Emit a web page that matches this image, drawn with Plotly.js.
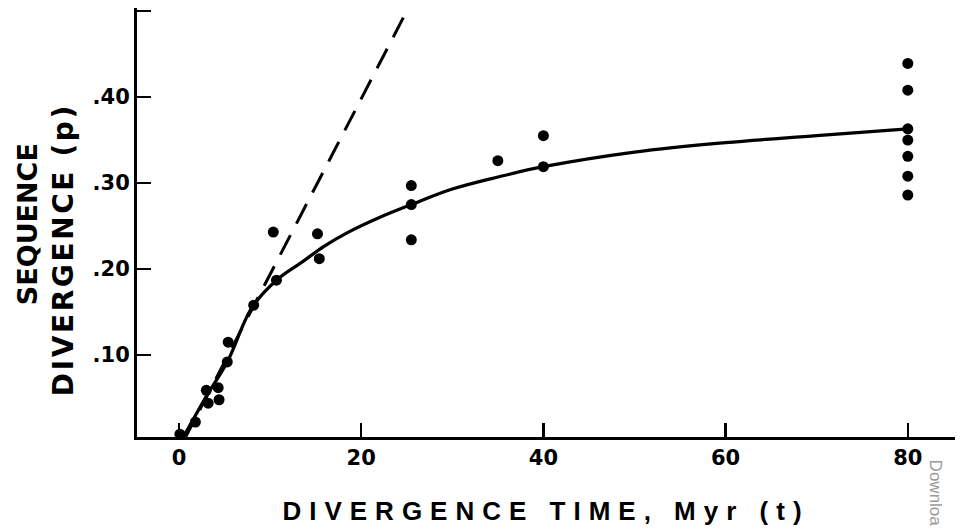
<!DOCTYPE html>
<html>
<head>
<meta charset="utf-8">
<script src="https://cdn.plot.ly/plotly-3.0.1.min.js"></script>
<style>
  html, body { margin: 0; padding: 0; background: #fff; }
  #chart { width: 963px; height: 532px; }
  .xtitle { letter-spacing: 8px; }
  .annotation[data-index="1"] .annotation-text { letter-spacing: 2.6px; }
</style>
</head>
<body>
<div id="chart"></div>
<script>
// Observed data points: divergence time (Myr) vs sequence divergence (p)
const obsTime = [0.1, 1.8, 3.0, 3.2, 4.3, 4.4, 5.3, 5.4, 8.2, 10.35, 10.7, 15.2, 15.4,
                 25.5, 25.5, 25.5, 35.0, 40.0, 40.0,
                 80, 80, 80, 80, 80, 80, 80];
const obsDiv  = [0.008, 0.022, 0.059, 0.044, 0.062, 0.048, 0.092, 0.115, 0.158, 0.243, 0.187, 0.241, 0.212,
                 0.297, 0.275, 0.234, 0.326, 0.355, 0.319,
                 0.439, 0.408, 0.363, 0.350, 0.331, 0.308, 0.286];

// Fitted (solid) curve
const curveTime = [0.5, 3, 5.3, 8, 10.7, 13.5, 16, 18.6, 22, 25.5, 30, 35, 40, 50, 60, 70, 80];
const curveDiv  = [0.005, 0.052, 0.092, 0.155, 0.187, 0.208, 0.227, 0.243, 0.260, 0.275, 0.293, 0.307, 0.319, 0.336, 0.347, 0.355, 0.363];

// Linear (dashed) line
const lineTime = [0.5, 25.0];
const lineDiv  = [0.0, 0.5];

// Tick labels
const xTickVals = [0, 20, 40, 60, 80];
const xTickText = ['0', '20', '40', '60', '80'];
const yTickVals = [0.1, 0.2, 0.3, 0.4, 0.5];
const yTickText = ['.10', '.20', '.30', '.40', ''];

const tickFont = {family: 'DejaVu Sans, Liberation Sans, sans-serif', size: 21, color: '#000', weight: 'bold'};

const traces = [
  {x: lineTime, y: lineDiv, type: 'scatter', mode: 'lines',
   line: {color: '#000', width: 3, dash: '22px,13px'}, hoverinfo: 'skip', showlegend: false},
  {x: curveTime, y: curveDiv, type: 'scatter', mode: 'lines',
   line: {color: '#000', width: 3.2, shape: 'spline', smoothing: 1}, hoverinfo: 'skip', showlegend: false},
  {x: obsTime, y: obsDiv, type: 'scatter', mode: 'markers',
   marker: {color: '#000', size: 11}, showlegend: false}
];

const layout = {
  width: 963, height: 532,
  margin: {l: 137, r: 8, t: 8, b: 95},
  paper_bgcolor: '#fff', plot_bgcolor: '#fff',
  showlegend: false,
  xaxis: {
    range: [-4.61, 85.18], showgrid: false, zeroline: false,
    showline: true, linecolor: '#000', linewidth: 3,
    ticks: 'inside', ticklen: 14, tickwidth: 2.5, tickcolor: '#000',
    tickvals: xTickVals, ticktext: xTickText, tickfont: tickFont,
    title: {text: 'DIVERGENCE TIME, Myr (t)', standoff: 33,
            font: {family: 'Liberation Sans, Arial, sans-serif', size: 26, color: '#000', weight: 'bold'}}
  },
  yaxis: {
    range: [0.0047, 0.5035], showgrid: false, zeroline: false,
    showline: true, linecolor: '#000', linewidth: 3,
    ticks: 'inside', ticklen: 14, tickwidth: 2.5, tickcolor: '#000',
    tickvals: yTickVals, ticktext: yTickText, tickfont: tickFont
  },
  annotations: [
    {text: 'SEQUENCE', xref: 'paper', yref: 'paper', x: -0.1345, y: 0.496,
     xanchor: 'center', yanchor: 'middle', textangle: -90, showarrow: false,
     font: {family: 'DejaVu Sans, Liberation Sans, sans-serif', size: 27, color: '#000', weight: 'bold'}},
    {text: 'DIVERGENCE (p)', xref: 'paper', yref: 'paper', x: -0.0892, y: 0.436,
     xanchor: 'center', yanchor: 'middle', textangle: -90, showarrow: false,
     font: {family: 'DejaVu Sans, Liberation Sans, sans-serif', size: 28, color: '#000', weight: 'bold'}},
    {text: 'Downloa', xref: 'paper', yref: 'paper', x: 0.9756, y: -0.047,
     xanchor: 'center', yanchor: 'top', textangle: 90, showarrow: false,
     font: {family: 'Liberation Sans, sans-serif', size: 17, color: '#999'}}
  ]
};

Plotly.newPlot('chart', traces, layout, {staticPlot: true, displayModeBar: false});
</script>
</body>
</html>
